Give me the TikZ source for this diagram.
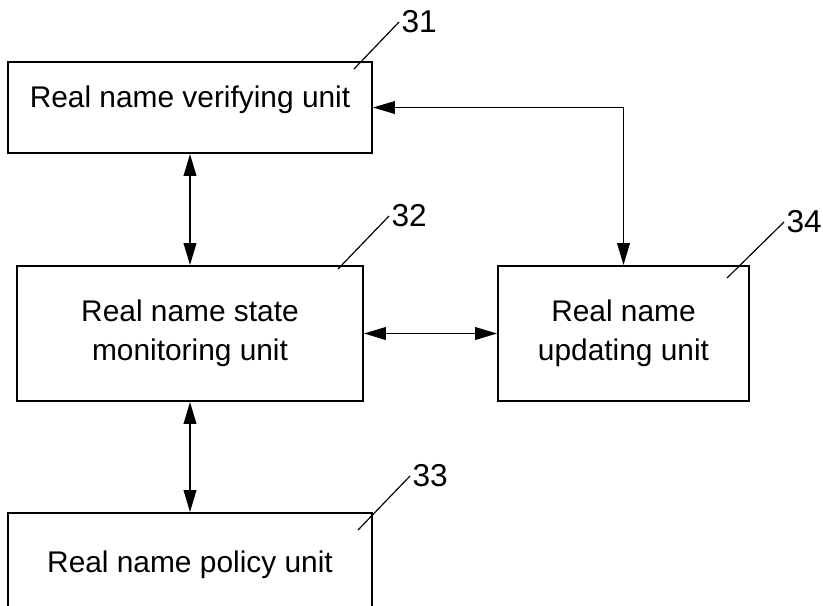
\documentclass[tikz,border=0pt]{standalone}
\usepackage{fontspec}
\setmainfont{Liberation Sans}
\usetikzlibrary{arrows.meta}
\tikzset{
	unitbox/.style={draw=black, line width=1.6pt, inner sep=0pt, align=center, font=\fontsize{25.5}{33}\selectfont},
	reflabel/.style={anchor=west, inner sep=2pt, font=\fontsize{27}{30}\selectfont},
	biarrow/.style={line width=1.5pt, {Triangle[length=0.66cm,width=0.38cm]}-{Triangle[length=0.66cm,width=0.38cm]}},
	leader/.style={line width=1pt}
}

\begin{document}
\begin{tikzpicture}[x=0.03cm, y=-0.03cm]
\useasboundingbox (0,0) rectangle (823,605);

% units
\node[unitbox, minimum width=10.92cm, minimum height=2.73cm, text depth=0.62cm] (b31) at (190,107.5) {Real name verifying unit};
\node[unitbox, minimum width=10.38cm, minimum height=4.05cm] (b32) at (190,333.5) {Real name state\\monitoring unit};
\node[unitbox, minimum width=7.53cm, minimum height=4.05cm] (b34) at (623.5,333.5) {Real name\\updating unit};
\node[unitbox, minimum width=10.92cm, minimum height=3.12cm] (b33) at (190,565) {Real name policy unit};

% arrows
\draw[biarrow] (b31.south) -- (b32.north);
\draw[biarrow] (b32.south) -- (b33.north);
\draw[biarrow] (b32.east) -- (b34.west);
\draw[biarrow, line width=1.2pt] (b31.east) -| (b34.north);

% reference numerals
\node[reflabel] (n31) at (399,22) {31};
\node[reflabel] (n32) at (389,216) {32};
\node[reflabel] (n34) at (784,222) {34};
\node[reflabel] (n33) at (410,476) {33};
\coordinate (t31) at (354,69);
\coordinate (t32) at (338,269);
\coordinate (t34) at (727,278);
\coordinate (t33) at (358,530);
\draw[leader] (t31) -- (n31.west);
\draw[leader] (t32) -- (n32.west);
\draw[leader] (t34) -- (n34.west);
\draw[leader] (t33) -- (n33.west);
\end{tikzpicture}
\end{document}
